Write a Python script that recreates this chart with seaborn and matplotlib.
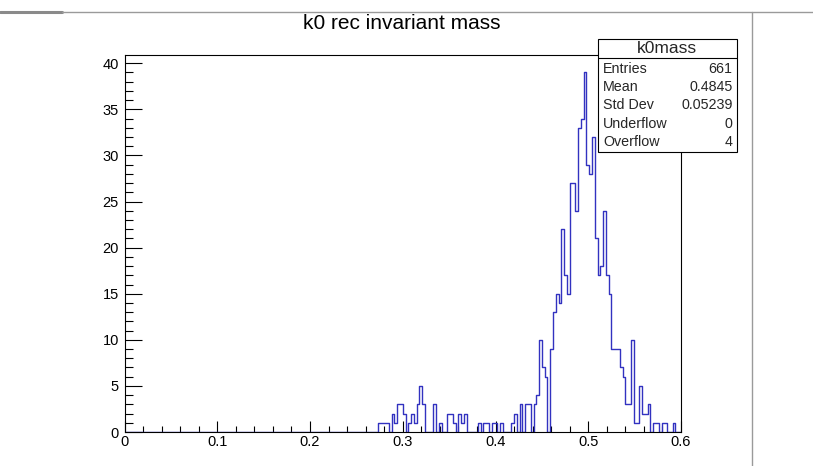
import numpy as np
import pandas as pd
import matplotlib
matplotlib.use("Agg")
import matplotlib.pyplot as plt
from matplotlib.patches import Rectangle
from matplotlib.lines import Line2D
from matplotlib.ticker import MultipleLocator, FixedLocator
import seaborn as sns

# ---------------- data ----------------
title = "k0 rec invariant mass"
hist_name = "k0mass"
x_min, x_max, n_bins = 0.0, 0.6, 200
first_bin = 91  # bins before this are empty
counts_from_first = [
    1, 1, 1, 1, 0, 2, 1, 3, 3, 2,      # 91-100
    0, 1, 2, 1, 3, 5, 3, 0, 0, 0,      # 101-110
    3, 0, 1, 0, 0, 2, 2, 1, 0, 2,      # 111-120
    1, 2, 0, 0, 0, 0, 1, 0, 1, 1,      # 121-130
    0, 1, 1, 0, 1, 0, 0, 0, 1, 2,      # 131-140
    0, 3, 0, 3, 3, 0, 3, 4, 10, 7,     # 141-150
    6, 0, 9, 13, 15, 14, 22, 17, 15, 27,   # 151-160
    27, 24, 33, 34, 39, 29, 28, 32, 21, 17,  # 161-170
    18, 24, 17, 15, 9, 9, 9, 7, 6, 3,  # 171-180
    3, 10, 1, 1, 5, 2, 2, 3, 0, 1,     # 181-190
    1, 0, 1, 1, 0, 0, 1, 0, 0,         # 191-199
]
stat_labels = ["Entries", "Mean", "Std Dev", "Underflow", "Overflow"]
stat_values = ["661", "0.4845", "0.05239", "0", "4"]
x_tick_values = [0.0, 0.1, 0.2, 0.3, 0.4, 0.5, 0.6]
x_tick_labels = ["0", "0.1", "0.2", "0.3", "0.4", "0.5", "0.6"]
y_tick_values = [0, 5, 10, 15, 20, 25, 30, 35, 40]
y_tick_labels = ["0", "5", "10", "15", "20", "25", "30", "35", "40"]

counts = np.zeros(n_bins)
counts[first_bin:first_bin + len(counts_from_first)] = counts_from_first
edges = np.linspace(x_min, x_max, n_bins + 1)
centers = 0.5 * (edges[:-1] + edges[1:])
df = pd.DataFrame({"mass": centers, "count": counts})

# ---------------- style ----------------
sns.set_style("ticks")
plt.rcParams["font.family"] = ["Liberation Sans", "DejaVu Sans"]
line_color = "#3232c0"

W, H = 813, 466
fig = plt.figure(figsize=(W / 100, H / 100), dpi=100)
fig.patch.set_facecolor("white")

def fx(px):
    return px / W

def fy(py):
    return 1 - py / H

ax_l, ax_r, ax_t, ax_b = 124.5, 681, 54.5, 432
ax = fig.add_axes([fx(ax_l), fy(ax_b), fx(ax_r - ax_l), (ax_b - ax_t) / H])

sns.histplot(data=df, x="mass", weights="count", bins=n_bins,
             binrange=(x_min, x_max), element="step",
             fill=False, color=line_color, linewidth=1.0, ax=ax)

ax.set_xlim(x_min, x_max)
ax.set_ylim(0, 40.95)
ax.set_xlabel("")
ax.set_ylabel("")
ax.xaxis.set_major_locator(FixedLocator(x_tick_values))
ax.set_xticklabels(x_tick_labels)
ax.xaxis.set_minor_locator(MultipleLocator(0.02))
ax.yaxis.set_major_locator(FixedLocator(y_tick_values))
ax.set_yticklabels(y_tick_labels)
ax.yaxis.set_minor_locator(MultipleLocator(1))

for s in ax.spines.values():
    s.set_color("black")
    s.set_linewidth(0.8)

ax.tick_params(axis="both", which="both", direction="in", colors="black",
               labelsize=10.5, top=False, right=False, width=0.8)
ax.tick_params(axis="x", which="major", length=8, pad=2)
ax.tick_params(axis="x", which="minor", length=4)
ax.tick_params(axis="y", which="major", length=12, pad=4)
ax.tick_params(axis="y", which="minor", length=6)

# title
fig.text(fx(402), fy(23.5), title, ha="center", va="center", fontsize=15, color="black")

# stats box
bx0, bx1, by0, by1 = 597.5, 736.5, 38.5, 151.5
fig.add_artist(Rectangle((fx(bx0), fy(by1)), fx(bx1 - bx0), (by1 - by0) / H,
                         transform=fig.transFigure, facecolor="white",
                         edgecolor="black", linewidth=0.8, zorder=5))
fig.add_artist(Line2D([fx(bx0), fx(bx1)], [fy(57.5), fy(57.5)],
                      transform=fig.transFigure, color="black", linewidth=0.8, zorder=6))
fig.text(fx((bx0 + bx1) / 2), fy(48.5), hist_name, ha="center", va="center",
         fontsize=12.5, zorder=7)
row_y = [69, 87, 105, 123.5, 142.5]
for lab, val, yy in zip(stat_labels, stat_values, row_y):
    fig.text(fx(603), fy(yy), lab, ha="left", va="center", fontsize=10.3, zorder=7)
    fig.text(fx(732.5), fy(yy), val, ha="right", va="center", fontsize=10.3, zorder=7)

# window frame decorations
fig.add_artist(Line2D([0, fx(62)], [fy(12), fy(12)], transform=fig.transFigure,
                      color="#8a8a8a", linewidth=2.2))
fig.add_artist(Line2D([fx(62), 1], [fy(11.8), fy(11.8)], transform=fig.transFigure,
                      color="#9a9a9a", linewidth=1.0))
fig.add_artist(Line2D([fx(752), fx(752)], [fy(12), 0], transform=fig.transFigure,
                      color="#9a9a9a", linewidth=1.0))

fig.savefig("out.png", dpi=100, facecolor="white")
